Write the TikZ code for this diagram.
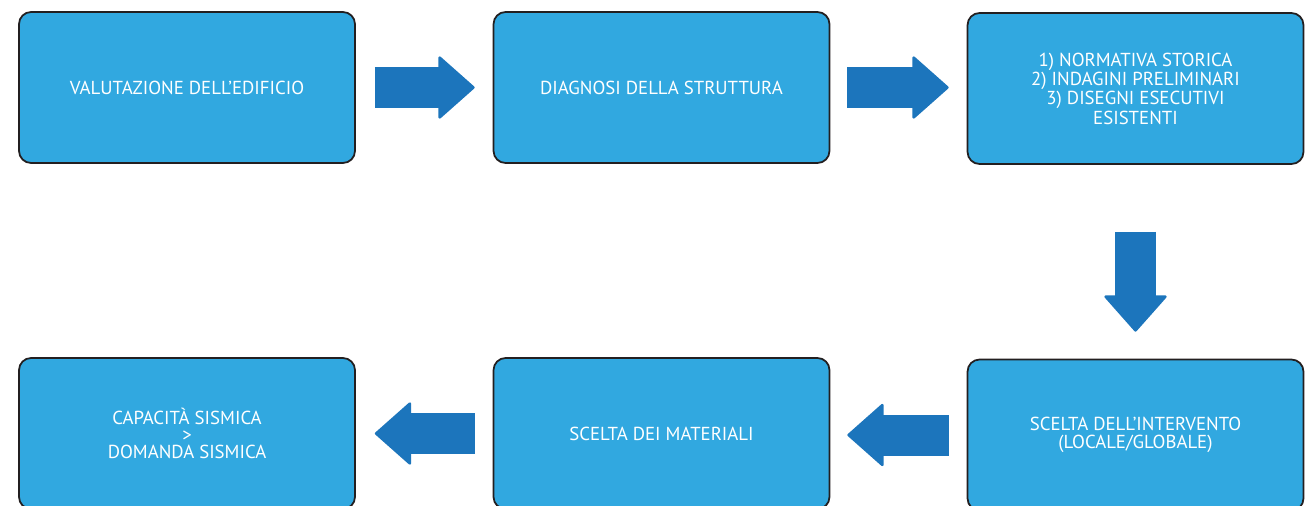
\documentclass[tikz,border=0pt]{standalone}
\usepackage{fontspec}
\setmainfont{PT Sans}
\usepackage{xcolor}
\usepackage{tikz}
\usetikzlibrary{positioning, arrows.meta}
\definecolor{azzurro}{RGB}{49, 168, 224}
\definecolor{bluscuro}{RGB}{28, 117, 188}
\definecolor{bordo}{RGB}{35, 31, 32}

\begin{document}
\begin{tikzpicture}[
  x=0.02cm, y=-0.02cm,
  font={\fontsize{10.7}{9.9}\selectfont},
  blocco/.style={draw=bordo, fill=azzurro, rounded corners=0.24cm, line width=1pt, align=center, text=white, minimum width=6.72cm, minimum height=3.02cm, inner sep=2pt},
  freccia/.style={-{Triangle[length=0.74cm, width=1.3cm, line width=1.5pt, round]}, line width=0.82cm, bluscuro, line join=round}
]
\useasboundingbox[fill=white] (0,0) rectangle (1310,505);
% Riga 1: valutazione e diagnosi
\node[blocco] (valut) at (187,87.5) {VALUTAZIONE DELL'EDIFICIO};
\node[blocco] (diagn) at (661.5,87.5) {DIAGNOSI DELLA STRUTTURA};
\node[blocco] (indag) at (1135.5,88.5) {1) NORMATIVA STORICA\\2) INDAGINI PRELIMINARI\\3) DISEGNI ESECUTIVI\\ESISTENTI};
% Riga 2: intervento, materiali, verifica
\node[blocco] (interv) at (1135.5,435) {SCELTA DELL'INTERVENTO\\(LOCALE/GLOBALE)};
\node[blocco] (mater) at (661.5,433.5) {SCELTA DEI MATERIALI};
\node[blocco] (verif) at (187,433.5) {CAPACITÀ SISMICA\\>\\DOMANDA SISMICA};
% Frecce
\draw[freccia, shorten <=0.38cm, shorten >=0.36cm] (valut) -- (diagn);
\draw[freccia, shorten <=0.34cm, shorten >=0.36cm] (diagn.east) -- (diagn.east -| indag.west);
\draw[freccia, shorten <=1.34cm, shorten >=0.54cm] (indag) -- (interv);
\draw[freccia, shorten <=0.36cm, shorten >=0.34cm] (interv.west) -- (interv.west -| mater.east);
\draw[freccia, shorten <=0.36cm, shorten >=0.38cm] (mater) -- (verif);
\end{tikzpicture}
\end{document}
